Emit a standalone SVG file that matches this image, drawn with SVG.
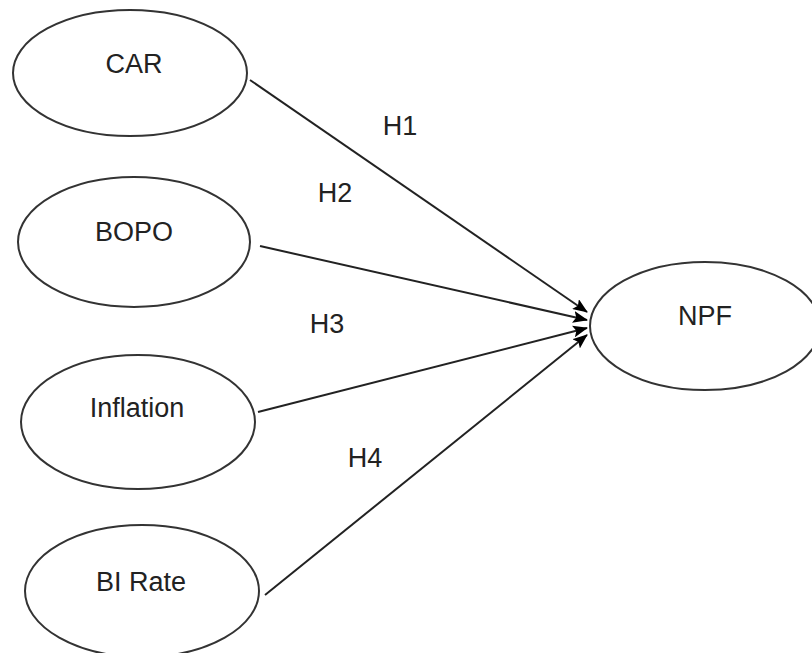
<svg xmlns="http://www.w3.org/2000/svg" width="812" height="653" viewBox="0 0 812 653">
<style>
.node ellipse{fill:#fff;stroke:#333;stroke-width:2}
.node text,.lbl{font-family:"Liberation Sans",Arial,sans-serif;font-size:27px;fill:#222;text-anchor:middle}
.edge{stroke:#222;stroke-width:2;fill:none;marker-end:url(#arr)}
</style>
<defs>
<marker id="arr" viewBox="0 0 15 12" refX="14" refY="6" markerWidth="15" markerHeight="12" markerUnits="userSpaceOnUse" orient="auto">
<path d="M0,0 L15,6 L0,12 L3,6 Z" fill="#000"/>
</marker>
</defs>
<rect width="812" height="653" fill="#fff"/>
<g id="connectors">
<line class="edge" x1="250" y1="80" x2="587" y2="312"/>
<line class="edge" x1="260" y1="246" x2="587" y2="320"/>
<line class="edge" x1="258" y1="412" x2="587" y2="328"/>
<line class="edge" x1="265" y1="595" x2="587" y2="335"/>
<text class="lbl" x="400" y="135">H1</text>
<text class="lbl" x="335" y="202">H2</text>
<text class="lbl" x="327" y="333">H3</text>
<text class="lbl" x="365" y="467">H4</text>
</g>
<g id="CAR" class="node"><ellipse cx="130" cy="73" rx="117" ry="63"/><text x="134" y="73">CAR</text></g>
<g id="BOPO" class="node"><ellipse cx="134" cy="242" rx="116" ry="65"/><text x="134" y="241">BOPO</text></g>
<g id="Inflation" class="node"><ellipse cx="138" cy="422" rx="117" ry="67"/><text x="137" y="417">Inflation</text></g>
<g id="BIRate" class="node"><ellipse cx="142" cy="591" rx="117" ry="66"/><text x="141" y="591">BI Rate</text></g>
<g id="NPF" class="node"><ellipse cx="705" cy="326" rx="115" ry="64"/><text x="705" y="325">NPF</text></g>
</svg>
